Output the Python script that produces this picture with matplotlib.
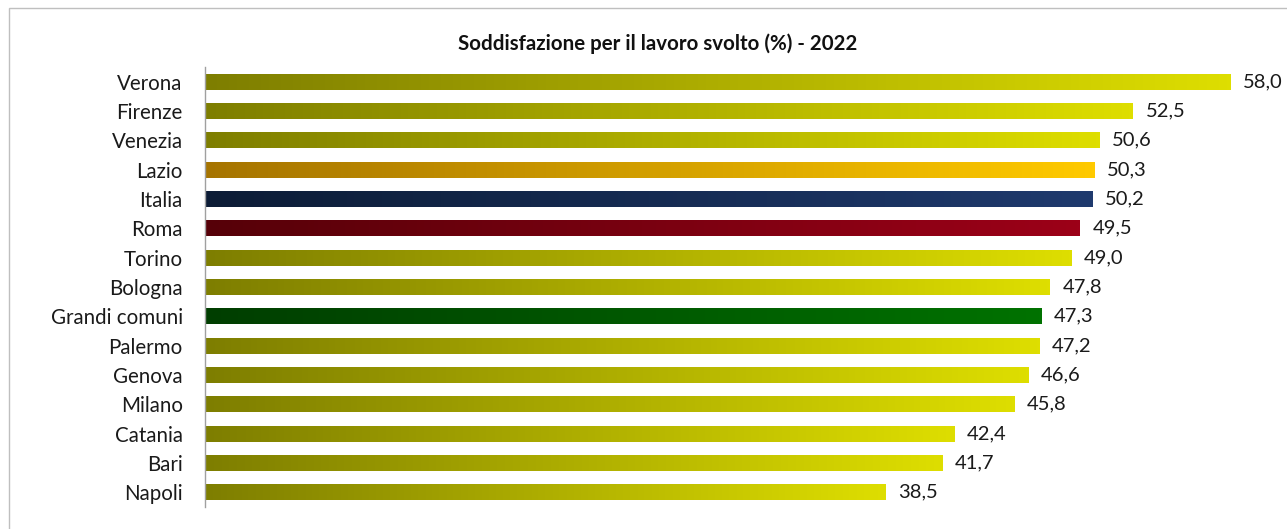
import numpy as np
import matplotlib.pyplot as plt
from matplotlib.colors import LinearSegmentedColormap
from matplotlib.patches import Rectangle

plt.rcParams["font.family"] = ["Lato", "DejaVu Sans"]

#
# Data
#
cities = ["Verona", "Firenze", "Venezia", "Lazio", "Italia", "Roma", "Torino",
          "Bologna", "Grandi comuni", "Palermo", "Genova", "Milano", "Catania",
          "Bari", "Napoli"]
values = [58.0, 52.5, 50.6, 50.3, 50.2, 49.5, 49.0, 47.8, 47.3, 47.2, 46.6,
          45.8, 42.4, 41.7, 38.5]
title = "Soddisfazione per il lavoro svolto (%) - 2022"

# gradient (left, right) per bar
olive = ("#7e7e00", "#dede00")
special = {
    "Lazio": ("#a67400", "#ffca00"),
    "Italia": ("#0c1c36", "#1f3a6e"),
    "Roma": ("#560008", "#9c0018"),
    "Grandi comuni": ("#003e00", "#007200"),
}

#
# Plot
#
fig = plt.figure(figsize=(12.87, 5.29), dpi=100)
ax = fig.add_axes([0.1593, 0.0416, 0.824, 0.8318])

y = np.arange(len(cities))
bars = ax.barh(y, values, height=0.54, color="none", edgecolor="none")
ax.set_xlim(0, 60)
ax.set_ylim(len(cities) - 0.5, -0.5)

grad = np.linspace(0, 1, 256).reshape(1, -1)
for bar, name, v in zip(bars, cities, values):
    c0, c1 = special.get(name, olive)
    cmap = LinearSegmentedColormap.from_list(name, [c0, c1])
    x0, y0 = bar.get_x(), bar.get_y()
    w, h = bar.get_width(), bar.get_height()
    im = ax.imshow(grad, cmap=cmap, aspect="auto",
                   extent=[x0, x0 + w, y0 + h, y0], zorder=2)
    im.set_clip_path(bar)
    ax.annotate(f"{v:.1f}".replace(".", ","), (v, bar.get_y() + h / 2),
                xytext=(9, 0), textcoords="offset points",
                va="center", ha="left", fontsize=14.5, color="#1a1a1a")

ax.set_xlim(0, 60)
ax.set_ylim(len(cities) - 0.5, -0.5)
ax.set_yticks(y)
ax.set_yticklabels(cities, fontsize=14.8, color="#1a1a1a")
ax.tick_params(axis="y", length=0, pad=16)
ax.set_xticks([])
for s in ["top", "right", "bottom"]:
    ax.spines[s].set_visible(False)
ax.spines["left"].set_color("#a0a0a0")
ax.spines["left"].set_linewidth(1)

fig.text(0.511, 0.918, title, ha="center", va="center",
         fontsize=14.8, fontweight="bold", color="#111111")

# chart border
fig.patches.append(Rectangle((9 / 1287, -0.05), 1.1, 1 - 8 / 529 + 0.05,
                             transform=fig.transFigure, fill=False,
                             edgecolor="#bfbfbf", linewidth=1))

fig.savefig("out.png", dpi=100)
